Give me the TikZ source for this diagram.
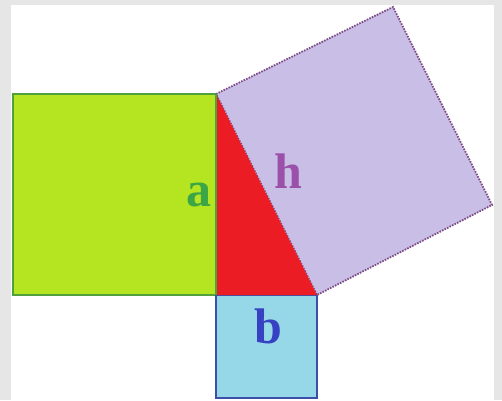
\documentclass[tikz,border=0pt]{standalone}
\usepackage{fontspec}
\setmainfont{Liberation Serif}
\definecolor{bggray}{RGB}{230,230,230}
\definecolor{sqgreen}{RGB}{181,228,32}
\definecolor{edgegreen}{RGB}{80,160,60}
\definecolor{labgreen}{RGB}{60,165,70}
\definecolor{trired}{RGB}{236,28,36}
\definecolor{sqpurple}{RGB}{200,190,230}
\definecolor{edgepurple}{RGB}{125,75,135}
\definecolor{labpurple}{RGB}{155,80,170}
\definecolor{sqblue}{RGB}{150,216,232}
\definecolor{edgeblue}{RGB}{60,80,170}
\definecolor{labblue}{RGB}{55,65,195}
\tikzset{
  lab/.style={font=\fontsize{50}{50}\selectfont\bfseries, inner sep=0pt},
}
\begin{document}
\begin{tikzpicture}[x=1pt,y=-1pt]
\useasboundingbox (0,0) rectangle (502,400);
\fill[bggray] (0,0) rectangle (502,400);
\fill[white] (11,5) rectangle (494,400);
\coordinate (A) at (216,94);
\coordinate (C) at (216,295);
\coordinate (B) at (317,295);
\coordinate (P) at (393,7);
\coordinate (Q) at (492,205);
% green square
\filldraw[fill=sqgreen, draw=edgegreen, line width=1.5pt] (13,94) rectangle (C);
% blue square
\filldraw[fill=sqblue, draw=edgeblue, line width=1.4pt] (C) rectangle (317,398);
% purple rectangle
\filldraw[fill=sqpurple, draw=edgepurple, line width=1.8pt, dash pattern=on 1.6pt off 1.2pt] (A) -- (P) -- (Q) -- (B) -- cycle;
% red triangle
\fill[trired] (A) -- (C) -- (B) -- cycle;
\draw[edgegreen, line width=1.5pt] (A) -- (C);
% labels
\node[lab, text=labgreen, anchor=base] (la) at (199,206) {a};
\node[lab, text=labpurple, anchor=base] (lh) at (288,188) {h};
\node[lab, text=labblue, anchor=base] (lb) at (268,343) {b};
\end{tikzpicture}
\end{document}
